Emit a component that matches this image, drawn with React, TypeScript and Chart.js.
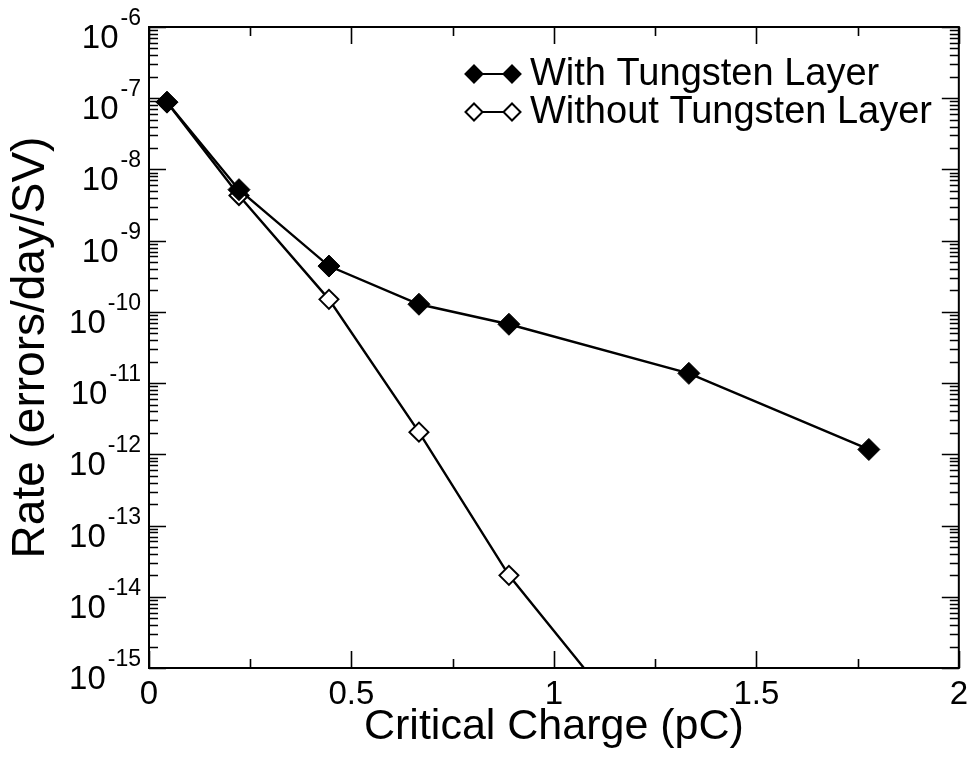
import React, { useEffect, useRef } from 'react';
import { Chart, registerables } from 'chart.js';

Chart.register(...registerables);

// ---- data ----
const xWith = [0.0444, 0.2222, 0.4444, 0.6667, 0.8889, 1.3333, 1.7778];
const yWith = [8.8e-8, 5.2e-9, 4.4e-10, 1.28e-10, 6.7e-11, 1.37e-11, 1.17e-12];
const xWithout = [0.0444, 0.2222, 0.4444, 0.6667, 0.8889, 1.1111];
const yWithout = [8.8e-8, 4.3e-9, 1.5e-10, 2.05e-12, 2.0e-14, 5.5e-16];
const seriesLabels = ['With Tungsten Layer', 'Without Tungsten Layer'];
const xTickValues = [0, 0.5, 1, 1.5, 2];
const xMinorValues = [0.25, 0.75, 1.25, 1.75];
const yDecades = [-15, -14, -13, -12, -11, -10, -9, -8, -7, -6];
const xTitle = 'Critical Charge (pC)';
const yTitle = 'Rate (errors/day/SV)';

const FONT = '"Liberation Sans", Arial, Helvetica, sans-serif';

function diamond(ctx: CanvasRenderingContext2D, x: number, y: number, r: number, filled: boolean) {
  ctx.beginPath();
  ctx.moveTo(x - r, y);
  ctx.lineTo(x, y - r);
  ctx.lineTo(x + r, y);
  ctx.lineTo(x, y + r);
  ctx.closePath();
  ctx.fillStyle = filled ? '#000' : '#fff';
  ctx.fill();
  ctx.lineWidth = 2;
  ctx.strokeStyle = '#000';
  ctx.stroke();
}

const framePlugin = {
  id: 'frameTicks',
  afterDraw(chart: any) {
    const { ctx, chartArea, scales } = chart;
    const { left, right, top, bottom } = chartArea;
    const xs = scales.x;
    const ys = scales.y;
    ctx.save();
    ctx.strokeStyle = '#000';
    ctx.lineCap = 'butt';
    // frame
    ctx.lineWidth = 2;
    ctx.strokeRect(left, top, right - left, bottom - top);
    ctx.lineWidth = 1.6;
    const MAJ = 17;
    const MIN = 9;
    const tickX = (v: number, len: number) => {
      const px = Math.round(xs.getPixelForValue(v)) + 0.5;
      ctx.beginPath();
      ctx.moveTo(px, bottom);
      ctx.lineTo(px, bottom - len);
      ctx.moveTo(px, top);
      ctx.lineTo(px, top + len);
      ctx.stroke();
    };
    xTickValues.forEach((v) => tickX(v, MAJ));
    xMinorValues.forEach((v) => tickX(v, MIN));
    const tickY = (v: number, len: number) => {
      const py = Math.round(ys.getPixelForValue(v)) + 0.5;
      ctx.beginPath();
      ctx.moveTo(left, py);
      ctx.lineTo(left + len, py);
      ctx.moveTo(right, py);
      ctx.lineTo(right - len, py);
      ctx.stroke();
    };
    yDecades.forEach((d, i) => {
      tickY(Math.pow(10, d), MAJ);
      if (i < yDecades.length - 1) {
        for (let m = 2; m <= 9; m++) tickY(m * Math.pow(10, d), MIN);
      }
    });
    // y tick labels: 10^k with superscript
    ctx.fillStyle = '#000';
    ctx.textBaseline = 'alphabetic';
    ctx.textAlign = 'left';
    yDecades.forEach((d) => {
      const py = ys.getPixelForValue(Math.pow(10, d));
      const exp = String(d);
      ctx.font = `23px ${FONT}`;
      const ew = ctx.measureText(exp).width;
      ctx.font = `33px ${FONT}`;
      const bw = ctx.measureText('10').width;
      const rightEdge = left - 8;
      const ex = rightEdge - ew;
      const bx = ex - 2 - bw;
      ctx.fillText('10', bx, py + 21);
      ctx.font = `23px ${FONT}`;
      ctx.fillText(exp, ex, py - 2);
    });
    // legend
    const rows = [74, 112];
    chart.data.datasets.forEach((ds: any, i: number) => {
      const cy = rows[i];
      ctx.lineWidth = 2.2;
      ctx.beginPath();
      ctx.moveTo(474, cy);
      ctx.lineTo(512, cy);
      ctx.stroke();
      const filled = ds.pointBackgroundColor === '#000';
      diamond(ctx, 474, cy, 8.5, filled);
      diamond(ctx, 512, cy, 8.5, filled);
      ctx.fillStyle = '#000';
      ctx.font = `38px ${FONT}`;
      ctx.textBaseline = 'middle';
      ctx.textAlign = 'left';
      ctx.fillText(ds.label, 530, cy + 1);
    });
    ctx.restore();
  },
};

export default function App() {
  const ref = useRef<HTMLCanvasElement | null>(null);
  useEffect(() => {
    if (!ref.current) return;
    const chart = new Chart(ref.current, {
      type: 'line',
      data: {
        datasets: [
          {
            label: seriesLabels[0],
            data: xWith.map((x, i) => ({ x, y: yWith[i] })),
            borderColor: '#000',
            borderWidth: 2.4,
            pointStyle: 'rectRot',
            pointRadius: 11,
            pointBackgroundColor: '#000',
            pointBorderColor: '#000',
            pointBorderWidth: 1,
            fill: false,
            tension: 0,
            clip: 0,
          },
          {
            label: seriesLabels[1],
            data: xWithout.map((x, i) => ({ x, y: yWithout[i] })),
            borderColor: '#000',
            borderWidth: 2.4,
            pointStyle: 'rectRot',
            pointRadius: 9.5,
            pointBackgroundColor: '#fff',
            pointBorderColor: '#000',
            pointBorderWidth: 2,
            fill: false,
            tension: 0,
            clip: 0,
          },
        ],
      },
      options: {
        animation: false,
        responsive: true,
        maintainAspectRatio: false,
        events: [],
        layout: { padding: { top: 27, right: 14, left: 0, bottom: 0 } },
        plugins: { legend: { display: false }, tooltip: { enabled: false } },
        scales: {
          x: {
            type: 'linear',
            min: 0,
            max: 2,
            grid: { display: false, drawTicks: false },
            border: { display: false },
            afterBuildTicks: (s: any) => {
              s.ticks = xTickValues.map((v) => ({ value: v }));
            },
            afterFit: (s: any) => {
              s.height = 89;
            },
            ticks: {
              color: '#000',
              font: { family: FONT, size: 33 },
              padding: 7,
              maxRotation: 0,
              autoSkip: false,
              callback: (v: any) => String(v),
            },
            title: {
              display: true,
              text: xTitle,
              color: '#000',
              font: { family: FONT, size: 43 },
              padding: { top: 0, bottom: 4 },
            },
          },
          y: {
            type: 'logarithmic',
            min: 1e-15,
            max: 1e-6,
            grid: { display: false, drawTicks: false },
            border: { display: false },
            ticks: { display: false },
            afterFit: (s: any) => {
              s.width = 149;
            },
            title: {
              display: true,
              text: yTitle,
              color: '#000',
              font: { family: FONT, size: 46 },
              padding: { top: 4, bottom: 0 },
            },
          },
        },
      },
      plugins: [framePlugin],
    } as any);
    return () => chart.destroy();
  }, []);
  return (
    <div style={{ position: 'fixed', left: 0, top: 0, width: 975, height: 757, background: '#fff' }}>
      <canvas ref={ref} />
    </div>
  );
}
